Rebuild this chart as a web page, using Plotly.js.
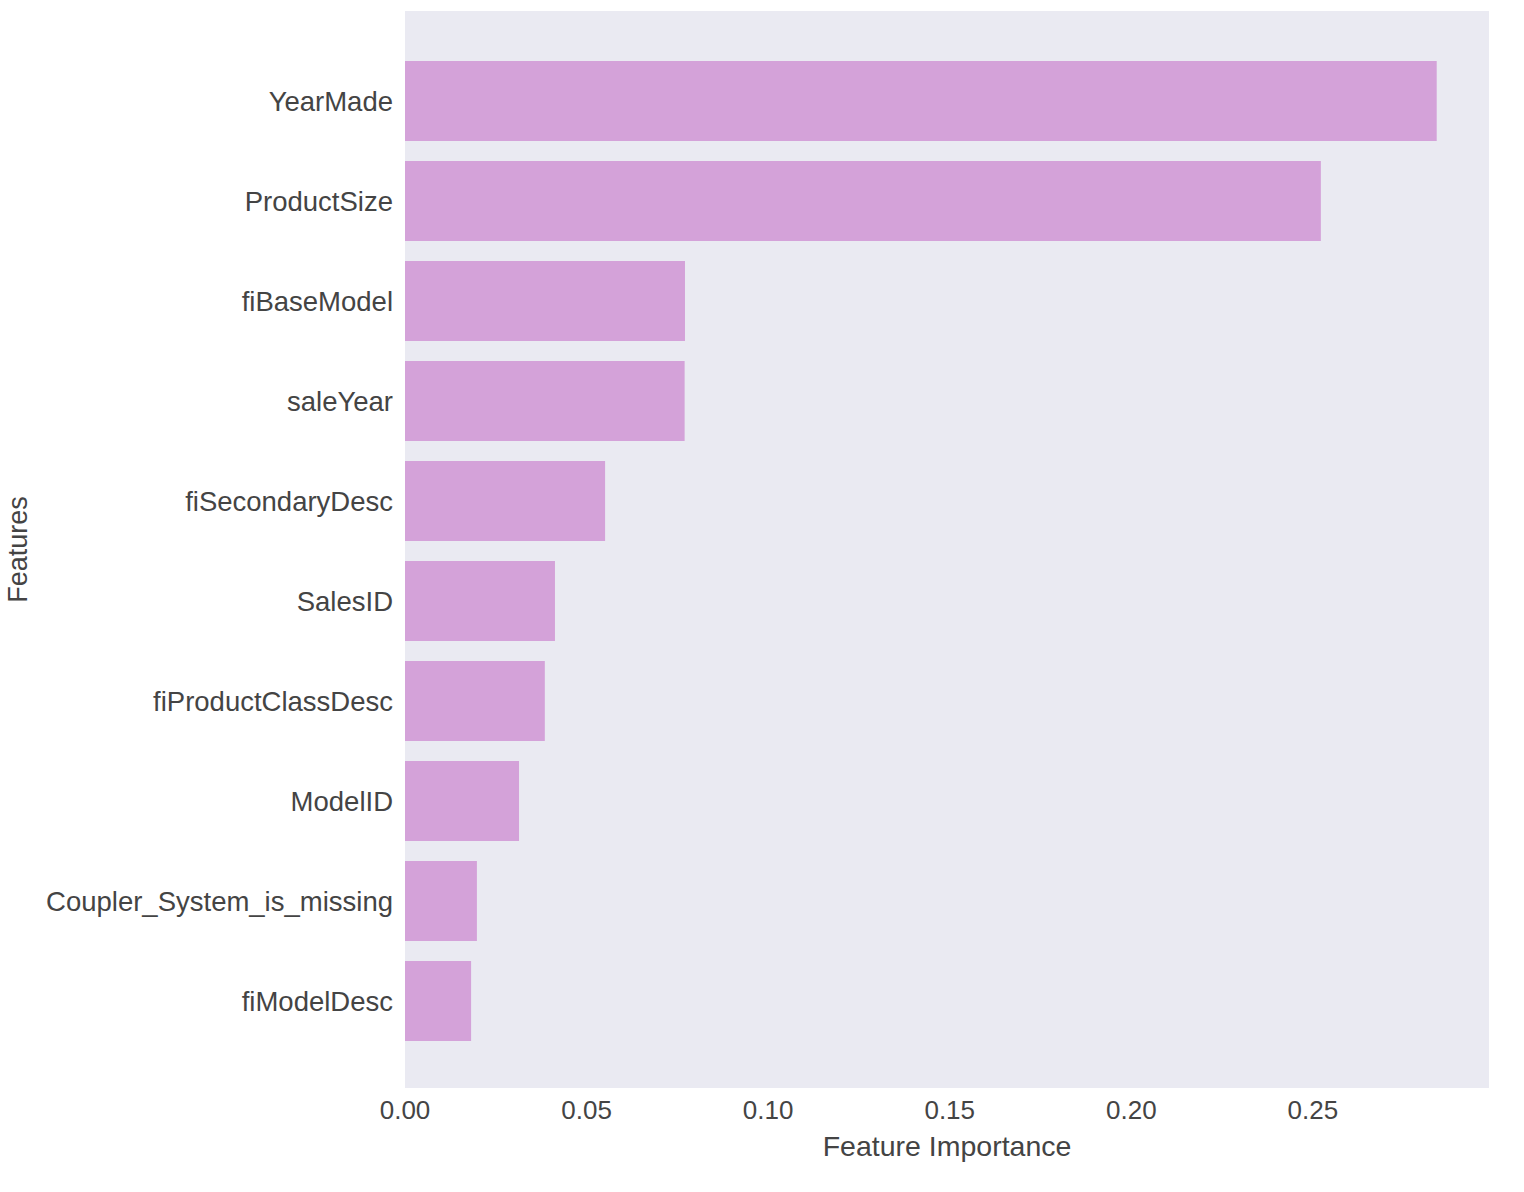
<!DOCTYPE html>
<html>
<head>
<meta charset="utf-8">
<script src="https://cdn.plot.ly/plotly-3.0.1.min.js"></script>
<style>
  html, body { margin: 0; padding: 0; background: #fff; }
  #chart { width: 1524px; height: 1192px; }
</style>
</head>
<body>
<div id="chart"></div>
<script>
// Feature importances, top to bottom as drawn
const features = [
    'YearMade', 'ProductSize', 'fiBaseModel', 'saleYear', 'fiSecondaryDesc',
    'SalesID', 'fiProductClassDesc', 'ModelID', 'Coupler_System_is_missing', 'fiModelDesc',
];
const importances = [
    0.2841, 0.2522, 0.0771, 0.0770, 0.0551,
    0.0413, 0.0385, 0.0314, 0.0198, 0.0182,
];
const xTicks = [0, 0.05, 0.10, 0.15, 0.20, 0.25];

const textColor = '#444444';
const family = '"Liberation Sans", Arial, sans-serif';
const font = { family: family, size: 26, color: textColor };

const trace = {
    type: 'bar',
    orientation: 'h',
    x: importances,
    y: features,
    marker: { color: '#d4a2d9', line: { width: 0 } },
    hoverinfo: 'x+y',
};

const layout = {
    width: 1524,
    height: 1192,
    margin: { l: 405, r: 35, t: 11, b: 104 },
    paper_bgcolor: '#ffffff',
    plot_bgcolor: '#eaeaf2',
    font: font,
    showlegend: false,
    bargap: 0.2,
    xaxis: {
        range: [0, 0.2985],
        tickvals: xTicks,
        tickformat: '.2f',
        showgrid: false,
        zeroline: false,
        showline: false,
        ticks: '',
        ticklabelstandoff: 4,
        tickfont: font,
        title: { text: 'Feature Importance', font: { ...font, size: 28.5 }, standoff: 12 },
    },
    yaxis: {
        type: 'category',
        categoryorder: 'array',
        categoryarray: features,
        range: [9.87, -0.90],
        showgrid: false,
        zeroline: false,
        showline: false,
        ticks: '',
        ticklabelstandoff: 11,
        tickfont: { ...font, size: 27.5 },
        title: { text: 'Features', font: { ...font, size: 27 }, standoff: 10 },
    },
};

Plotly.newPlot('chart', [trace], layout, { displayModeBar: false, staticPlot: true });
</script>
</body>
</html>
